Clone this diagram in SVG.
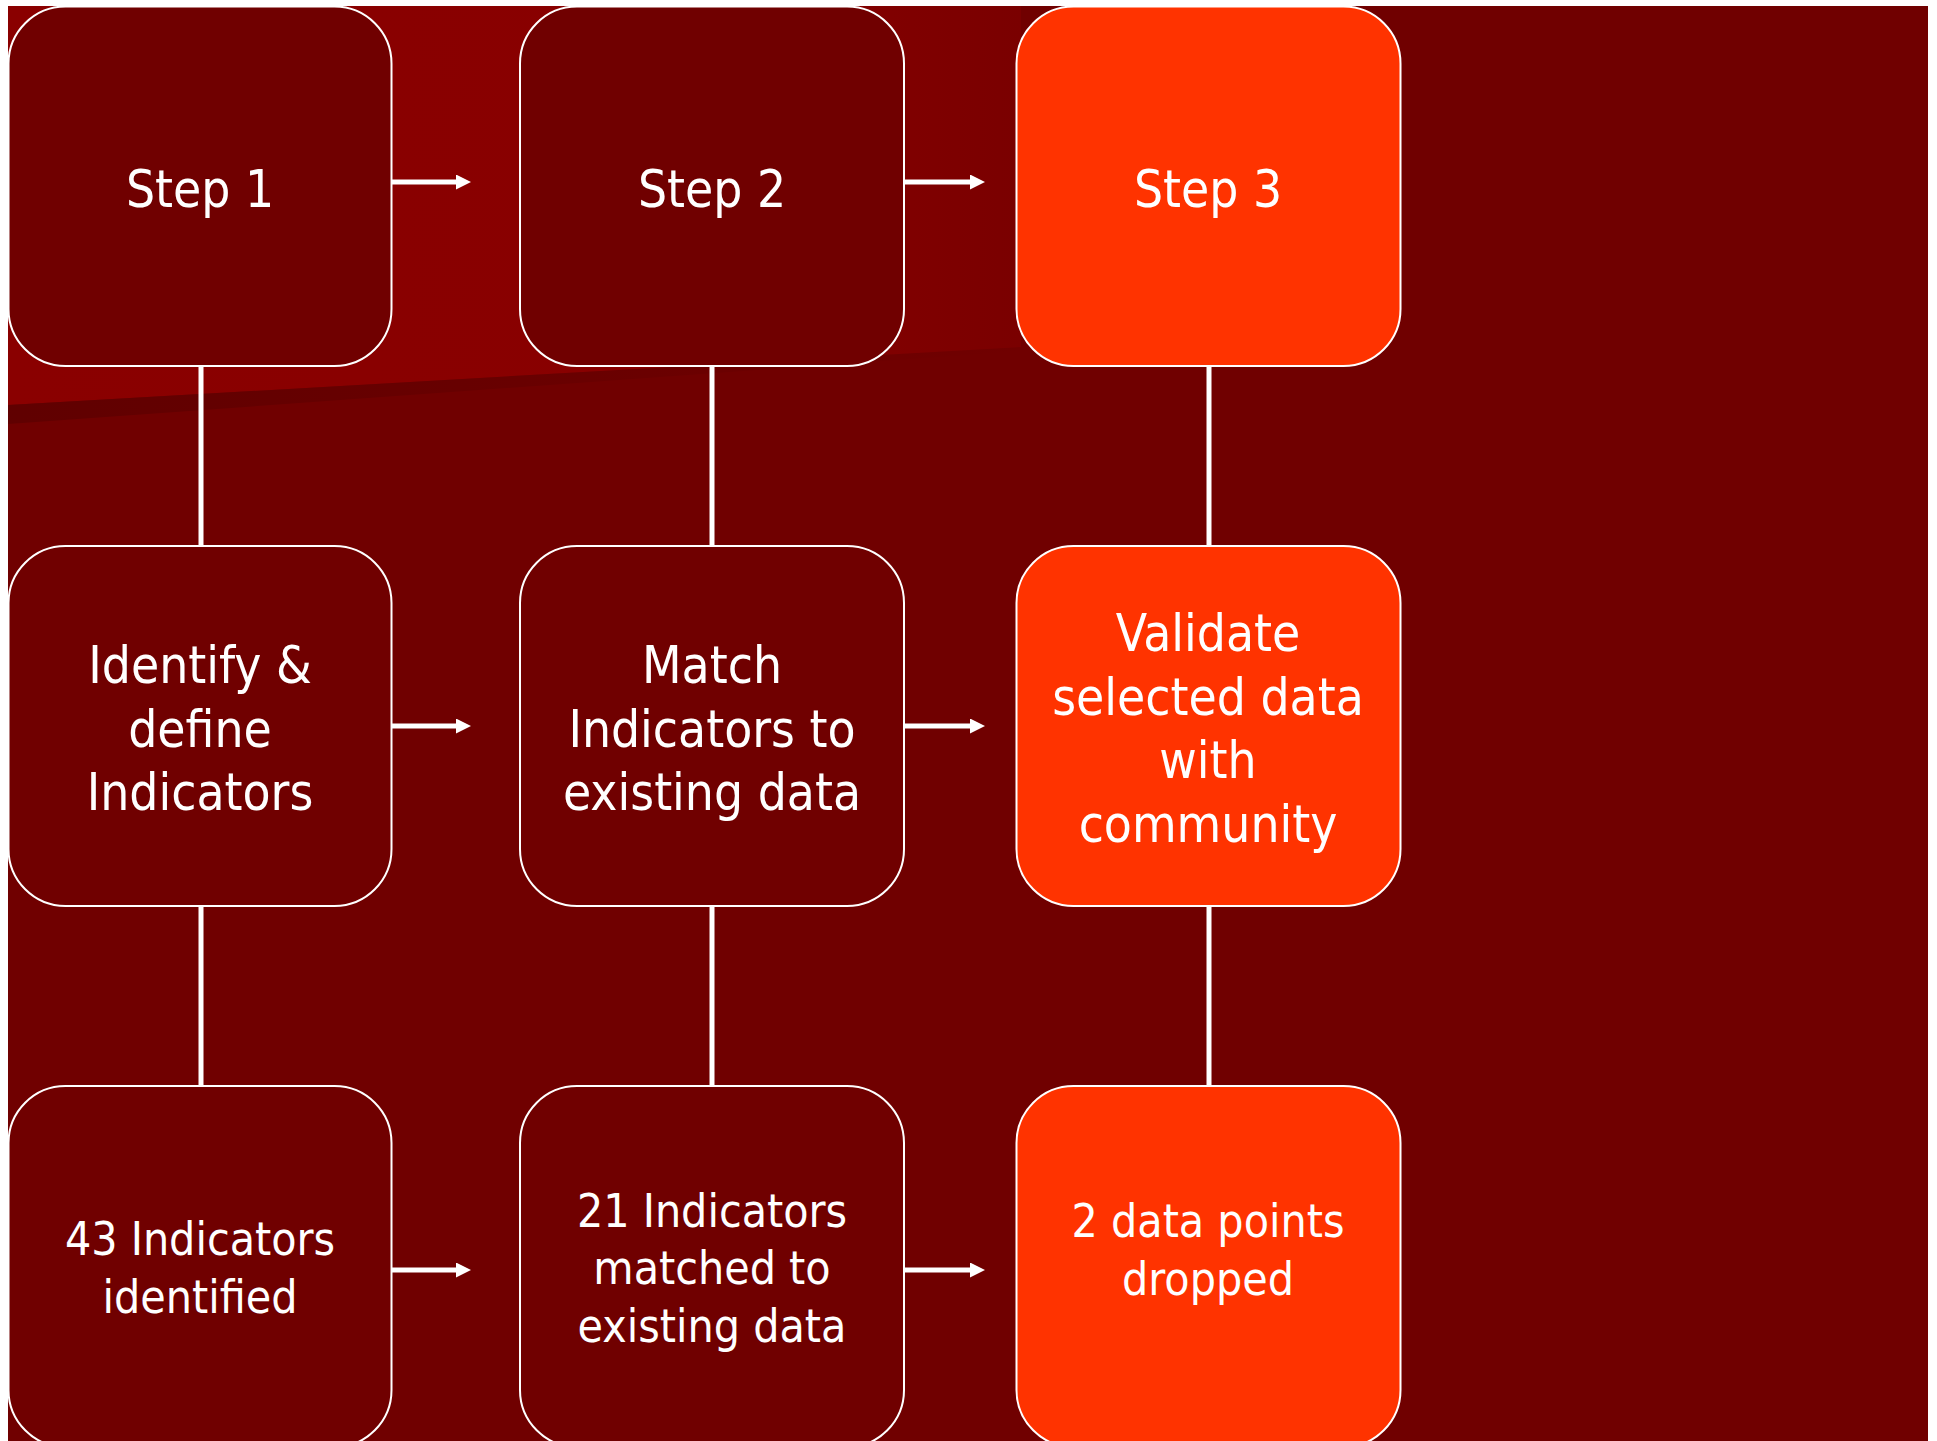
<svg xmlns="http://www.w3.org/2000/svg" width="1937" height="1441" viewBox="0 0 1937 1441">
<defs>
<linearGradient id="bright" x1="0" y1="0" x2="1" y2="0">
<stop offset="0" stop-color="#8a0000"/>
<stop offset="0.7" stop-color="#880000"/>
<stop offset="1" stop-color="#7a0000"/>
</linearGradient>
<linearGradient id="shade" x1="0" y1="0" x2="1" y2="0">
<stop offset="0" stop-color="#5e0000" stop-opacity="0.9"/>
<stop offset="1" stop-color="#5e0000" stop-opacity="0"/>
</linearGradient>
<marker id="ah" viewBox="0 0 15 15" refX="0" refY="7.5" markerWidth="15" markerHeight="15" markerUnits="userSpaceOnUse" orient="auto">
<path d="M0,0 L15,7.5 L0,15 Z" fill="#ffffff"/>
</marker>
</defs>
<style>
.box{stroke:#ffffff;stroke-width:2}
.dark{fill:#700000}
.hot{fill:#ff3300}
.conn line{stroke:#ffffff;stroke-width:5}
.lbl{font-family:"DejaVu Sans Condensed","DejaVu Sans",sans-serif;font-stretch:condensed;fill:#ffffff;text-anchor:middle;font-size:51px}
.sm{font-size:46px}
</style>
<rect x="0" y="0" width="1937" height="1441" fill="#ffffff"/>
<rect x="8" y="6" width="1920" height="1435" fill="#700000"/>
<polygon points="8,6 1021,6 1021,347 8,405" fill="url(#bright)"/>
<polygon points="8,405 1021,347 1021,351 8,424" fill="url(#shade)"/>
<g id="connectors" class="conn">
<line x1="392" y1="182" x2="456" y2="182" marker-end="url(#ah)"/>
<line x1="904" y1="182" x2="970" y2="182" marker-end="url(#ah)"/>
<line x1="392" y1="726" x2="456" y2="726" marker-end="url(#ah)"/>
<line x1="904" y1="726" x2="970" y2="726" marker-end="url(#ah)"/>
<line x1="392" y1="1270" x2="456" y2="1270" marker-end="url(#ah)"/>
<line x1="904" y1="1270" x2="970" y2="1270" marker-end="url(#ah)"/>
<line x1="201" y1="366" x2="201" y2="546"/>
<line x1="712" y1="366" x2="712" y2="546"/>
<line x1="1209" y1="366" x2="1209" y2="546"/>
<line x1="201" y1="906" x2="201" y2="1086"/>
<line x1="712" y1="906" x2="712" y2="1086"/>
<line x1="1209" y1="906" x2="1209" y2="1086"/>
</g>
<g id="step1">
<rect class="box dark" x="8.5" y="6.5" width="383" height="359.5" rx="57" ry="57"/>
<text class="lbl" x="200" y="207">Step 1</text>
</g>
<g id="step2">
<rect class="box dark" x="520" y="6.5" width="384" height="359.5" rx="57" ry="57"/>
<text class="lbl" x="712" y="207">Step 2</text>
</g>
<g id="step3">
<rect class="box hot" x="1016.5" y="6.5" width="384" height="359.5" rx="57" ry="57"/>
<text class="lbl" x="1208" y="207">Step 3</text>
</g>
<g id="identify">
<rect class="box dark" x="8.5" y="546" width="383" height="360" rx="57" ry="57"/>
<text class="lbl" x="200" y="683">Identify &amp;</text>
<text class="lbl" x="200" y="746.5">define</text>
<text class="lbl" x="200" y="810">Indicators</text>
</g>
<g id="match">
<rect class="box dark" x="520" y="546" width="384" height="360" rx="57" ry="57"/>
<text class="lbl" x="712" y="683">Match</text>
<text class="lbl" x="712" y="746.5">Indicators to</text>
<text class="lbl" x="712" y="810">existing data</text>
</g>
<g id="validate">
<rect class="box hot" x="1016.5" y="546" width="384" height="360" rx="57" ry="57"/>
<text class="lbl" x="1208" y="651">Validate</text>
<text class="lbl" x="1208" y="714.5">selected data</text>
<text class="lbl" x="1208" y="778">with</text>
<text class="lbl" x="1208" y="841.5">community</text>
</g>
<g id="identified">
<rect class="box dark" x="8.5" y="1086" width="383" height="361" rx="57" ry="57"/>
<text class="lbl sm" x="200" y="1255">43 Indicators</text>
<text class="lbl sm" x="200" y="1313">identified</text>
</g>
<g id="matched">
<rect class="box dark" x="520" y="1086" width="384" height="361" rx="57" ry="57"/>
<text class="lbl sm" x="712" y="1226.5">21 Indicators</text>
<text class="lbl sm" x="712" y="1284">matched to</text>
<text class="lbl sm" x="712" y="1341.5">existing data</text>
</g>
<g id="dropped">
<rect class="box hot" x="1016.5" y="1086" width="384" height="361" rx="57" ry="57"/>
<text class="lbl sm" x="1208" y="1237">2 data points</text>
<text class="lbl sm" x="1208" y="1295">dropped</text>
</g>
</svg>
